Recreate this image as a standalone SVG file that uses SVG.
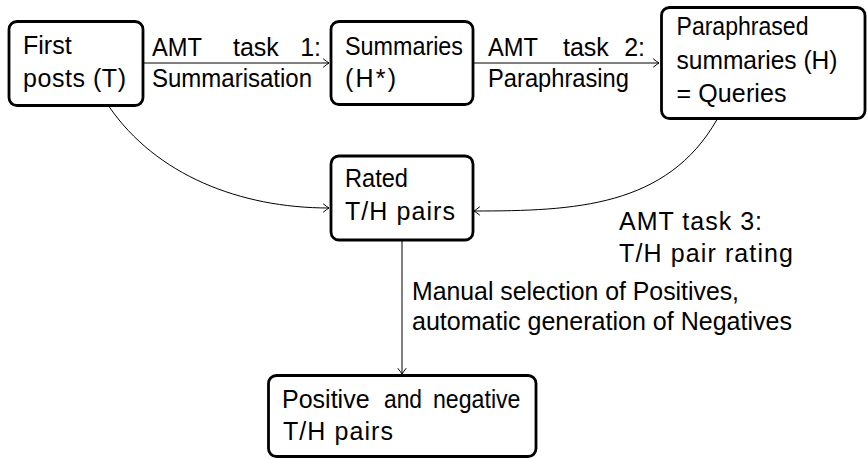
<svg xmlns="http://www.w3.org/2000/svg" width="867" height="459" viewBox="0 0 867 459">
  <style>
    .box { fill: #ffffff; stroke: #000000; stroke-width: 2.8; }
    .edge { fill: none; stroke: #000000; stroke-width: 1; marker-end: url(#tip); }
    text { font-family: "Liberation Sans", Arial, sans-serif; font-size: 25px; fill: #000000; }
  </style>
  <defs>
    <!-- small open curved arrow tip -->
    <marker id="tip" markerUnits="userSpaceOnUse" viewBox="-8 -5 10 10" refX="0" refY="0" markerWidth="10" markerHeight="10" orient="auto">
      <path d="M -5.5,-4 Q -1.5,-0.8 0,0 Q -1.5,0.8 -5.5,4" fill="none" stroke="#000000" stroke-width="1" stroke-linecap="round"/>
    </marker>
  </defs>
  <rect width="867" height="459" fill="#ffffff"/>

  <g id="connectors">
    <path class="edge" d="M 143,63 L 329,63"/>
    <path class="edge" d="M 473,63 L 659,63"/>
    <path class="edge" d="M 109,106.5 C 156,175 240,208 329,208"/>
    <path class="edge" d="M 717,119.5 C 667,207 575,211 474,211"/>
    <path class="edge" d="M 402,241 L 402,374"/>
  </g>

  <g id="edge-labels">
    <text x="152" y="56" textLength="50" lengthAdjust="spacingAndGlyphs">AMT</text>
    <text x="233" y="56">task</text>
    <text x="321" y="56" text-anchor="end">1:</text>
    <text x="152" y="87" textLength="160" lengthAdjust="spacingAndGlyphs">Summarisation</text>
    <text x="488" y="56" textLength="50" lengthAdjust="spacingAndGlyphs">AMT</text>
    <text x="563" y="56">task</text>
    <text x="645" y="56" text-anchor="end">2:</text>
    <text x="488" y="87" textLength="141" lengthAdjust="spacingAndGlyphs">Paraphrasing</text>
    <text x="619" y="230" textLength="143" lengthAdjust="spacing">AMT task 3:</text>
    <text x="619" y="262" textLength="174" lengthAdjust="spacing">T/H pair rating</text>
    <text x="412" y="300" textLength="327" lengthAdjust="spacingAndGlyphs">Manual selection of Positives,</text>
    <text x="412" y="330" textLength="380" lengthAdjust="spacingAndGlyphs">automatic generation of Negatives</text>
  </g>

  <g id="first-posts">
    <rect class="box" x="9" y="21.5" width="134" height="84" rx="8"/>
    <text x="23" y="54">First</text>
    <text x="23" y="87" textLength="103" lengthAdjust="spacing">posts (T)</text>
  </g>

  <g id="summaries">
    <rect class="box" x="331" y="21.5" width="142" height="83" rx="8"/>
    <text x="345" y="55" textLength="118" lengthAdjust="spacingAndGlyphs">Summaries</text>
    <text x="345" y="87" textLength="51" lengthAdjust="spacing">(H*)</text>
  </g>

  <g id="paraphrased">
    <rect class="box" x="661.5" y="7.5" width="203.5" height="111" rx="8"/>
    <text x="676.5" y="35" textLength="132" lengthAdjust="spacingAndGlyphs">Paraphrased</text>
    <text x="676.5" y="69" textLength="161" lengthAdjust="spacingAndGlyphs">summaries (H)</text>
    <text x="676.5" y="102" textLength="110" lengthAdjust="spacing">= Queries</text>
  </g>

  <g id="rated">
    <rect class="box" x="331" y="156" width="142" height="84" rx="8"/>
    <text x="345" y="187" textLength="63" lengthAdjust="spacingAndGlyphs">Rated</text>
    <text x="345" y="220" textLength="110" lengthAdjust="spacing">T/H pairs</text>
  </g>

  <g id="final-pairs">
    <rect class="box" x="268.5" y="375.5" width="267.5" height="81" rx="8"/>
    <text x="282" y="407.5">Positive</text>
    <text x="384" y="407.5" textLength="38" lengthAdjust="spacingAndGlyphs">and</text>
    <text x="433" y="407.5" textLength="87.5" lengthAdjust="spacingAndGlyphs">negative</text>
    <text x="283" y="440" textLength="110" lengthAdjust="spacing">T/H pairs</text>
  </g>
</svg>
